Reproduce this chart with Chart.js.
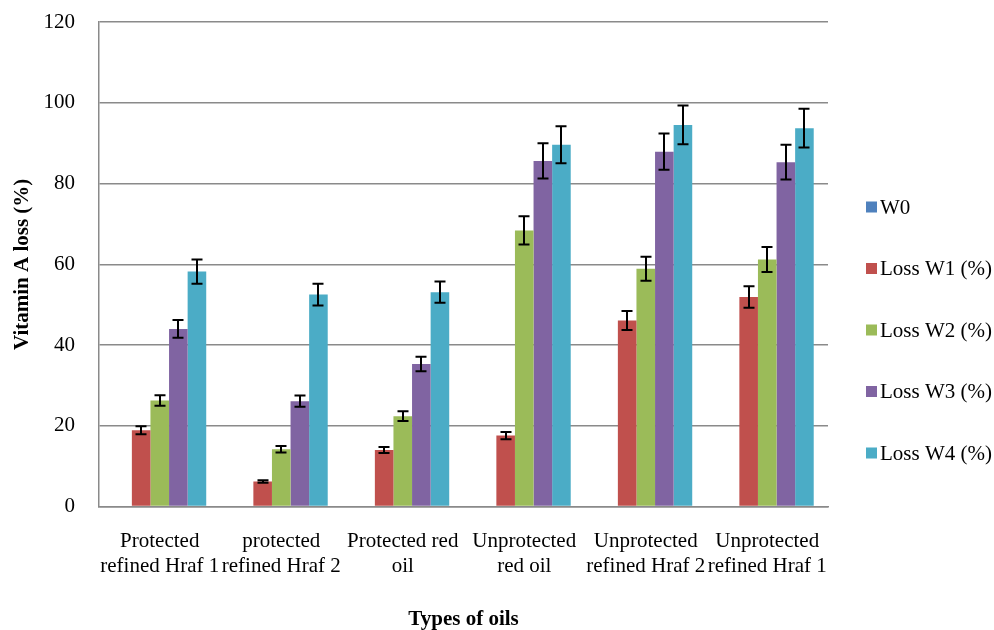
<!DOCTYPE html>
<html lang="en">

<head>
    <meta charset="UTF-8">
    <title>Vitamin A loss</title>
    <script src="https://cdn.jsdelivr.net/npm/chart.js"></script>
    <style>
        body { margin: 0; background: #fff; }
        .chart-container { width: 994px; height: 630px; }
    </style>
</head>

<body>
    <div class="chart-container">
        <canvas id="lossChart"></canvas>
    </div>

    <script>
        const categories = [
            ['Protected', 'refined Hraf 1'],
            ['protected', 'refined Hraf 2'],
            ['Protected red', 'oil'],
            ['Unprotected', 'red oil'],
            ['Unprotected', 'refined Hraf 2'],
            ['Unprotected', 'refined Hraf 1']
        ];
        const seriesNames = ['W0', 'Loss W1 (%)', 'Loss W2 (%)', 'Loss W3 (%)', 'Loss W4 (%)'];
        const seriesColors = ['#4F81BD', '#C0504D', '#9BBB59', '#8064A2', '#4BACC6'];

        const w0 = [0, 0, 0, 0, 0, 0];
        const lossW1 = [18.9, 6.2, 14.0, 17.6, 46.1, 51.9];
        const lossW2 = [26.3, 14.2, 22.4, 68.4, 58.9, 61.2];
        const lossW3 = [44.0, 26.1, 35.3, 85.6, 87.9, 85.3];
        const lossW4 = [58.2, 52.5, 53.1, 89.6, 94.5, 93.7];

        const errW1 = [1.0, 0.3, 0.75, 0.9, 2.35, 2.65];
        const errW2 = [1.3, 0.8, 1.2, 3.5, 3.0, 3.1];
        const errW3 = [2.2, 1.4, 1.8, 4.35, 4.5, 4.3];
        const errW4 = [3.0, 2.7, 2.65, 4.6, 4.8, 4.8];

        const yTicks = [0, 20, 40, 60, 80, 100, 120];

        const allValues = [w0, lossW1, lossW2, lossW3, lossW4];
        const allErrors = [null, errW1, errW2, errW3, errW4];

        const serif = '"Liberation Serif", "Times New Roman", serif';

        // black error bars on top of the bars
        const errorBars = {
            id: 'errorBars',
            afterDatasetsDraw(chart) {
                const ctx = chart.ctx;
                const yScale = chart.scales.y;
                ctx.save();
                ctx.strokeStyle = '#000';
                ctx.lineWidth = 2;
                chart.data.datasets.forEach((ds, di) => {
                    const errs = allErrors[di];
                    if (!errs) return;
                    const meta = chart.getDatasetMeta(di);
                    meta.data.forEach((bar, i) => {
                        const v = ds.data[i];
                        const x = Math.round(bar.x);
                        const yTop = yScale.getPixelForValue(v + errs[i]);
                        const yBot = yScale.getPixelForValue(v - errs[i]);
                        ctx.beginPath();
                        ctx.moveTo(x, yTop);
                        ctx.lineTo(x, yBot);
                        ctx.moveTo(x - 5.5, yTop);
                        ctx.lineTo(x + 5.5, yTop);
                        ctx.moveTo(x - 5.5, yBot);
                        ctx.lineTo(x + 5.5, yBot);
                        ctx.stroke();
                    });
                });
                ctx.restore();
            }
        };

        // legend at the right, spaced like the original
        const sideLegend = {
            id: 'sideLegend',
            afterDraw(chart) {
                const ctx = chart.ctx;
                const area = chart.chartArea;
                const boxX = area.right + 38;
                const firstY = area.top + 185;
                const step = 61.5;
                ctx.save();
                ctx.font = '21px ' + serif;
                ctx.textBaseline = 'middle';
                ctx.textAlign = 'left';
                chart.data.datasets.forEach((ds, i) => {
                    const y = firstY + i * step;
                    ctx.fillStyle = ds.backgroundColor;
                    ctx.fillRect(boxX, y - 5.5, 11, 11);
                    ctx.fillStyle = '#000';
                    ctx.fillText(ds.label, boxX + 14, y + 1);
                });
                ctx.restore();
            }
        };

        const ctx = document.getElementById('lossChart').getContext('2d');
        const myChart = new Chart(ctx, {
            type: 'bar',
            data: {
                labels: categories,
                datasets: allValues.map((vals, i) => ({
                    label: seriesNames[i],
                    data: vals,
                    backgroundColor: seriesColors[i],
                    borderWidth: 0,
                    categoryPercentage: 0.765,
                    barPercentage: 1.0
                }))
            },
            options: {
                responsive: true,
                maintainAspectRatio: false,
                animation: false,
                layout: {
                    padding: { top: 22, right: 166, bottom: 0, left: 0 }
                },
                plugins: {
                    tooltip: { enabled: false },
                    legend: { display: false }
                },
                scales: {
                    x: {
                        grid: { display: false, drawTicks: false },
                        border: { color: '#8a8a8a', width: 1.5 },
                        ticks: {
                            font: { family: serif, size: 21 },
                            color: '#000',
                            maxRotation: 0,
                            autoSkip: false,
                            padding: 22
                        },
                        title: {
                            display: true,
                            text: 'Types of oils',
                            font: { family: serif, size: 21, weight: 'bold', lineHeight: 1.0 },
                            color: '#000',
                            padding: { top: 8, bottom: 0 }
                        }
                    },
                    y: {
                        min: 0,
                        max: 120,
                        afterBuildTicks(axis) {
                            axis.ticks = yTicks.map(v => ({ value: v }));
                        },
                        afterFit(axis) {
                            axis.width = 99;
                        },
                        grid: {
                            color: '#8a8a8a',
                            lineWidth: 1.5,
                            tickLength: 20,
                            tickColor: 'rgba(0,0,0,0)'
                        },
                        border: { color: '#8a8a8a', width: 1.5 },
                        ticks: {
                            font: { family: serif, size: 21 },
                            color: '#000',
                            padding: 4
                        },
                        title: {
                            display: true,
                            text: 'Vitamin A loss (%)',
                            font: { family: serif, size: 21, weight: 'bold' },
                            color: '#000',
                            padding: { top: 10, bottom: 0 }
                        }
                    }
                }
            },
            plugins: [errorBars, sideLegend]
        });
    </script>
</body>

</html>
